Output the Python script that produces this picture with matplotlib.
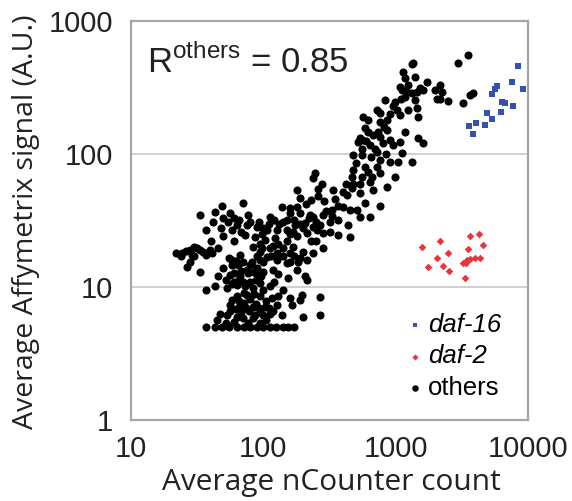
import matplotlib
matplotlib.use("Agg")
import matplotlib.pyplot as plt

plt.rcParams["font.family"] = ["Liberation Sans", "DejaVu Sans"]
plt.rcParams["mathtext.fontset"] = "custom"
plt.rcParams["mathtext.rm"] = "Liberation Sans"
plt.rcParams["mathtext.sf"] = "Liberation Sans"

# others (black dots): average nCounter count vs Affymetrix signal
oth_x = [48.5, 70.6, 33, 43, 56, 77, 112, 37, 42, 54.4, 63, 75, 89, 106, 126, 73, 86.5, 103, 122.5,
         24.2, 27.9, 31.4, 35.2, 39.5, 45.7, 66.7, 84, 94.4, 112, 141.6, 169, 200, 239, 284,
         26.4, 33, 49.9, 57.7, 64.7, 79.3, 94.4, 106, 126, 150, 184, 213,
         45.7, 56, 66.7, 77, 89, 100, 119, 155, 207, 213,
         37, 43, 52.8, 63, 73, 84, 94.4, 112, 141.6,
         63, 75, 94.4, 116, 130, 158, 195, 268,
         56, 66.7, 84, 103, 126, 164, 189,
         47, 52.8, 63, 86.5, 112, 138, 200, 268,
         37, 43, 49, 55, 63, 71, 80, 90, 100, 112, 125, 140, 155, 170,
         58, 70, 60, 70, 80, 72, 85, 100, 68, 78, 95, 60, 105, 120, 130, 90, 100, 115, 140, 160,
         130, 150, 180, 60, 95, 50, 40, 30, 100, 140, 170, 200, 250, 230, 180, 250,
         55, 62, 68, 75, 85, 60, 52, 58, 66, 78, 88, 96, 82, 90,
         58, 66, 72, 80, 88, 62, 74, 92, 56, 70, 84, 100, 110, 118, 45, 52, 76, 95, 105,
         50, 60, 66, 80, 92, 98, 68, 58, 48, 110, 120, 132, 150, 160, 118, 128, 98, 160, 170, 190,
         26, 29, 30, 33, 37, 41, 28, 24, 22,
         160, 180, 210, 230, 260, 290, 300, 330, 350, 400, 420, 260, 190, 220,
         500, 560, 600, 680, 700, 820, 900, 950, 1100, 1250, 1400, 650, 800, 850,
         1322, 1361, 2979, 1143, 1177, 1080, 1111, 1213, 1322, 1445, 1528, 1717, 1622, 1986, 2168, 2254,
         2046, 2168, 2500, 3214, 3650, 3865, 832, 989, 1177, 1402, 1018, 1248, 1445, 1486, 1080,
         720, 762, 570, 622, 762, 857, 587, 622, 740, 857, 1177, 1486, 1622,
         538, 523, 554, 641, 762, 908, 961, 1080, 479, 554, 720, 762, 908, 1048, 1111, 1322,
         479, 587, 622, 720, 762, 554, 659, 246, 239, 276, 465, 479, 538, 641, 857, 989,
         179, 189, 338, 427, 465, 538, 678, 762, 138, 158, 189, 225, 239, 284, 329, 369, 403, 452, 508, 587,
         150, 174, 207, 239, 268, 319, 369, 439, 538, 641, 169, 213, 253, 284, 319, 369, 452, 3524]
oth_y = [41, 42.6, 34.8, 36.8, 35.8, 34.8, 33.8, 26.8, 31, 31, 29.3, 29.3, 28.4, 26.8, 26.8, 24.6, 23.9, 22.6, 23.2,
         17.9, 19, 19.5, 18.4, 19, 19.5, 17.4, 20.1, 18.4, 19.5, 19.5, 20.1, 18.4, 17.9, 19.5,
         14.2, 13, 13.8, 14.6, 14.6, 14.6, 16, 16.9, 16, 15.1, 15.5, 16,
         12, 12.3, 12, 12.7, 12.3, 13, 13.4, 11.6, 12, 11.3,
         9.5, 10.1, 9.8, 10.4, 10.1, 9.8, 10.7, 10.1, 9.5,
         8.5, 8.7, 8.5, 8.2, 8.5, 8.2, 8.7, 8.4,
         7.3, 7.3, 7.1, 7.1, 7.3, 7.3, 8.0,
         6.3, 6.2, 6.0, 6.2, 6.3, 6.2, 6.0, 6.2,
         5, 5, 5, 5, 5, 5, 5, 5, 5, 5, 5, 5, 5, 5,
         16, 15.5, 11, 11, 11, 9, 8.8, 9.5, 6.5, 6.6, 6.5, 5.5, 7.8, 11, 12.5, 14, 15.5, 17, 17, 18,
         21, 22, 24, 22, 21, 24, 22, 17, 28, 31, 32, 28, 31, 22, 13.5, 22,
         16.5, 15.8, 13.2, 13.5, 13, 12.8, 11.2, 10.5, 11.3, 10.8, 11.3, 12, 15.5, 17,
         8, 7.8, 7.6, 8.1, 7.5, 6.8, 6.9, 7, 6.6, 5.8, 5.8, 6.2, 7, 6.6, 5.6, 5.4, 5.4, 5.4, 5.6,
         33, 33, 32, 31, 31, 25, 26, 27, 28, 30, 32, 30, 27, 25, 20.5, 18, 19.5, 15.5, 17, 16.5,
         18.5, 17.5, 20, 19, 17.5, 18, 15.5, 17, 18,
         36, 40, 42, 45, 48, 44, 37, 34, 46, 52, 60, 55, 30, 33,
         85, 110, 125, 140, 110, 160, 200, 230, 260, 330, 380, 95, 120, 100,
         475, 481, 481, 416, 371, 321, 303, 294, 286, 294, 312, 350, 303, 303, 330, 294,
         258, 258, 252, 243, 278, 286, 255, 247, 270, 255, 214, 216, 220, 191, 196,
         214, 202, 191, 180, 175, 180, 156, 147, 147, 151, 147, 131, 120,
         131, 124, 127, 117, 135, 127, 117, 124, 98, 98, 104, 90, 87.5, 87.5, 101, 87.5,
         76, 80, 73.6, 80, 71.6, 67.6, 67.6, 71.6, 65.6, 60, 67.6, 60, 60, 62, 56.8, 67.6,
         54, 46.5, 54, 49.2, 55.2, 50.7, 54, 41, 40, 39, 35.8, 34.8, 33.8, 34.8, 38, 41, 40, 38, 38, 42.6,
         32, 29.3, 30.1, 28.4, 29.3, 31, 32, 29.3, 33.8, 33.8, 26, 25.3, 26.8, 25.3, 26, 24.6, 23.9, 555]

# daf-16 (blue squares)
d16_x = [8472, 7540, 9226, 5807, 5640, 5321, 6339, 6714, 7762, 6223, 4887, 5321, 4742, 4055, 3606, 3828]
d16_y = [459, 350, 306, 325, 306, 281, 247, 240, 230, 208, 205, 182, 165, 172, 162, 141]

# daf-2 (red diamonds)
d2_x = [1575, 2168, 2065, 2500, 1767, 2296, 2547, 3650, 4266, 3548, 4603, 3251, 3444, 3650, 3981, 4345, 3350, 3400]
d2_y = [19.9, 22.3, 16.4, 17.9, 14.1, 14.4, 13.3, 24.2, 25, 19.2, 20.7, 15.2, 16, 16.2, 16.4, 16.6, 11.6, 15.1]

fig = plt.figure(figsize=(5.72, 5.01), dpi=100)
ax = fig.add_axes([0.229, 0.1617, 0.694, 0.7963])

ax.scatter(d16_x, d16_y, marker="s", s=20, c="#3552b0", linewidths=0, label="daf-16", zorder=3)
ax.scatter(d2_x, d2_y, marker="D", s=15, c="#e5373c", linewidths=0, label="daf-2", zorder=3)
ax.scatter(oth_x, oth_y, marker="o", s=34, c="black", linewidths=0, label="others", zorder=3)

ax.set_xscale("log"); ax.set_yscale("log")
ax.set_xlim(10, 10000); ax.set_ylim(1, 1000)
ax.set_xticks([10, 100, 1000, 10000]); ax.set_xticklabels(["10", "100", "1000", "10000"])
ax.set_yticks([1, 10, 100, 1000]); ax.set_yticklabels(["1", "10", "100", "1000"])
ax.minorticks_off()
ax.tick_params(axis="y", length=0, labelsize=21, pad=13, colors="#222222")
ax.tick_params(axis="x", length=0, labelsize=21, pad=11, colors="#222222")
for s in ax.spines.values():
    s.set_color("#a6a6a6"); s.set_linewidth(1.6)
for yv in [10, 100]:
    ax.axhline(yv, color="#c4c4c4", lw=1.1, zorder=1)

ax.set_xlabel("Average nCounter count", fontsize=21.5, family=["Open Sans", "DejaVu Sans"], color="#222222")
ax.set_ylabel("Average Affymetrix signal (A.U.)", fontsize=20.5, family=["Open Sans", "DejaVu Sans"], color="#222222")
ax.xaxis.label.set_va("center"); ax.yaxis.label.set_va("center")
ax.xaxis.set_label_coords(0.504, -0.157)
ax.yaxis.set_label_coords(-0.265, 0.496)

ax.text(0.04, 0.87, r"R$^{\mathrm{others}}$ = 0.85", transform=ax.transAxes, fontsize=25,
        va="baseline", ha="left", color="#222222")

leg = ax.legend(loc="upper left", bbox_to_anchor=(0.66, 0.295), frameon=False, fontsize=18.5,
                handletextpad=0.05, labelspacing=0.3, markerscale=0.8, borderaxespad=0, handlelength=0.9)
for t in leg.get_texts()[:2]:
    t.set_style("italic")

fig.savefig("out.png", dpi=100)
